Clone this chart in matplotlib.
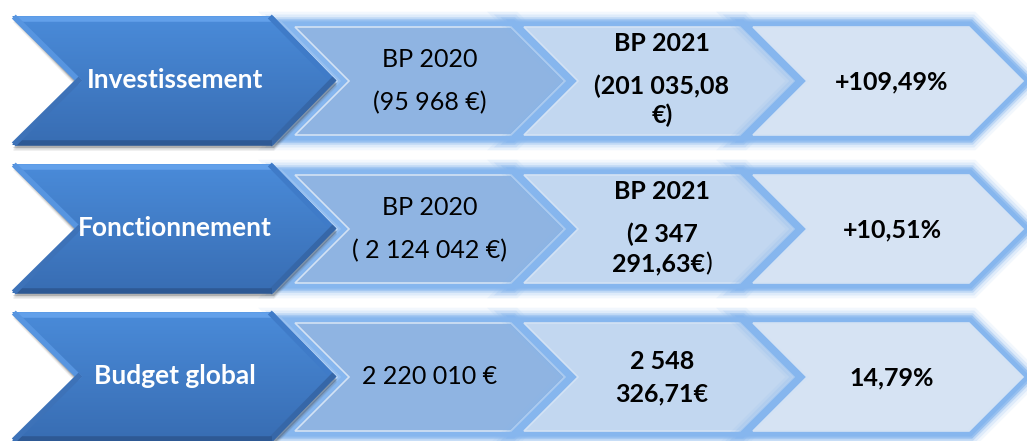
import numpy as np
import matplotlib
matplotlib.use("Agg")
import matplotlib.pyplot as plt
from matplotlib.patches import Polygon
from matplotlib.colors import to_rgba

# ---- content ----
categories = ["Investissement", "Fonctionnement", "Budget global"]
bp2020_labels = [["BP 2020", "(95 968 €)"],
                 ["BP 2020", "( 2 124 042 €)"],
                 ["2 220 010 €"]]
bp2021_labels = [["BP 2021", "(201 035,08", "€)"],
                 ["BP 2021", "(2 347", "291,63€)"],
                 ["2 548", "326,71€"]]
change_labels = ["+109,49%", "+10,51%", "14,79%"]

# ---- layout (pixels) ----
W, H = 1027, 441
fig = plt.figure(figsize=(W / 100, H / 100), dpi=100)
ax = fig.add_axes([0, 0, 1, 1])
ax.set_xlim(0, W)
ax.set_ylim(H, 0)
ax.axis("off")
renderer = fig.canvas.get_renderer()

FONT = "Lato"

def chevron(x, w, d, top, bot):
    mid = (top + bot) / 2
    return [(x, top), (x + w, top), (x + w + d, mid), (x + w, bot), (x, bot), (x + d, mid)]

row_tops = [16, 164, 312]
dark_h = 129
light_off, light_h = 11, 108
light_lefts = [295, 524, 753]
light_w, light_d = 216, 54
light_fill = ["#8fb4e2", "#c2d7f0", "#d6e3f3"]
glow_col = "#86b6ee"

for r, top in enumerate(row_tops):
    # light chevrons with glow
    lt = top + light_off
    lb = lt + light_h
    for c in range(3):
        pts = chevron(light_lefts[c], light_w, light_d, lt, lb)
        for lw, a in [(22, 0.10), (18, 0.18), (14, 0.35), (11, 0.7), (8, 1.0)]:
            ax.add_patch(Polygon(pts, closed=True, fill=False, edgecolor=to_rgba(glow_col, a),
                                 linewidth=lw, joinstyle="miter", zorder=1 + c * 3))
        ax.add_patch(Polygon(pts, closed=True, facecolor=light_fill[c], edgecolor="#d3e2f4",
                             linewidth=1.2, joinstyle="miter", zorder=2 + c * 3))

    # dark chevron
    bot = top + dark_h
    mid = (top + bot) / 2
    x0, w, d = 12, 261, 63
    pts = chevron(x0, w, d, top, bot)
    # shadow
    for off, a in [(6, 0.06), (4.5, 0.1), (3, 0.18)]:
        sh = [(px + 1, py + off) for px, py in pts]
        ax.add_patch(Polygon(sh, closed=True, facecolor=(0, 0, 0, a), edgecolor="none", zorder=19))
    poly = Polygon(pts, closed=True, facecolor="none", edgecolor="none", zorder=20)
    ax.add_patch(poly)
    n = 64
    c_top = np.array(to_rgba("#4a8bd9"))
    c_bot = np.array(to_rgba("#386db3"))
    t = np.linspace(0, 1, n)[:, None]
    grad = (c_top * (1 - t) + c_bot * t)[:, None, :]
    im = ax.imshow(grad, extent=(x0, x0 + w + d, bot, top), origin="upper",
                   aspect="auto", zorder=20, interpolation="bilinear")
    im.set_clip_path(poly)
    # bevel edges
    ins = 2.5
    ax.plot([x0 + ins * 1.5, x0 + w - ins * 0.5], [top + ins, top + ins], color="#62a0ea", lw=4, zorder=21, solid_capstyle="butt")
    ax.plot([x0 + w - ins * 0.5, x0 + w + d - ins * 1.4], [top + ins, mid], color="#3f7bc8", lw=4, zorder=21)
    ax.plot([x0 + w + d - ins * 1.4, x0 + w - ins * 0.5], [mid, bot - ins], color="#3667a8", lw=4, zorder=21)
    ax.plot([x0 + ins * 1.5, x0 + w - ins * 0.5], [bot - ins, bot - ins], color="#2e5994", lw=4, zorder=21, solid_capstyle="butt")
    ax.plot([x0 + ins * 1.5, x0 + d + ins * 1.4], [top + ins, mid], color="#5795e0", lw=4, zorder=21)
    ax.plot([x0 + d + ins * 1.4, x0 + ins * 1.5], [mid, bot - ins], color="#3d72b8", lw=4, zorder=21)

    # texts
    ax.text(175, mid, categories[r], color="white", fontsize=19,
            fontweight="bold", family=FONT, ha="center", va="center", zorder=30)

    cx2 = 430
    l2 = bp2020_labels[r]
    if len(l2) == 2:
        ys = [mid - 21, mid + 22]
    else:
        ys = [mid]
    for s, y in zip(l2, ys):
        ax.text(cx2, y, s, color="black", fontsize=18, family=FONT, ha="center",
                va="center", zorder=30)

    cx3 = 662
    l3 = bp2021_labels[r]
    if len(l3) == 3:
        ys = [mid - 37, mid + 6, mid + 35]
    else:
        ys = [mid - 15, mid + 17]
    for s, y in zip(l3, ys):
        if r == 1 and s.endswith("€)"):
            # bold amount followed by a regular closing parenthesis
            t1 = ax.text(0, y, s[:-1], color="black", fontsize=18, fontweight="bold",
                         family=FONT, ha="left", va="center", zorder=30)
            t2 = ax.text(0, y, ")", color="black", fontsize=18, family=FONT,
                         ha="left", va="center", zorder=30)
            w1 = t1.get_window_extent(renderer).width
            w2 = t2.get_window_extent(renderer).width
            start = cx3 - (w1 + w2) / 2
            t1.set_x(start)
            t2.set_x(start + w1)
        else:
            ax.text(cx3, y, s, color="black", fontsize=18, fontweight="bold", family=FONT,
                    ha="center", va="center", zorder=30)

    ax.text(892, mid + 1, change_labels[r], color="black", fontsize=18, fontweight="bold",
            family=FONT, ha="center", va="center", zorder=30)

fig.savefig("out.png", dpi=100, facecolor="white")
